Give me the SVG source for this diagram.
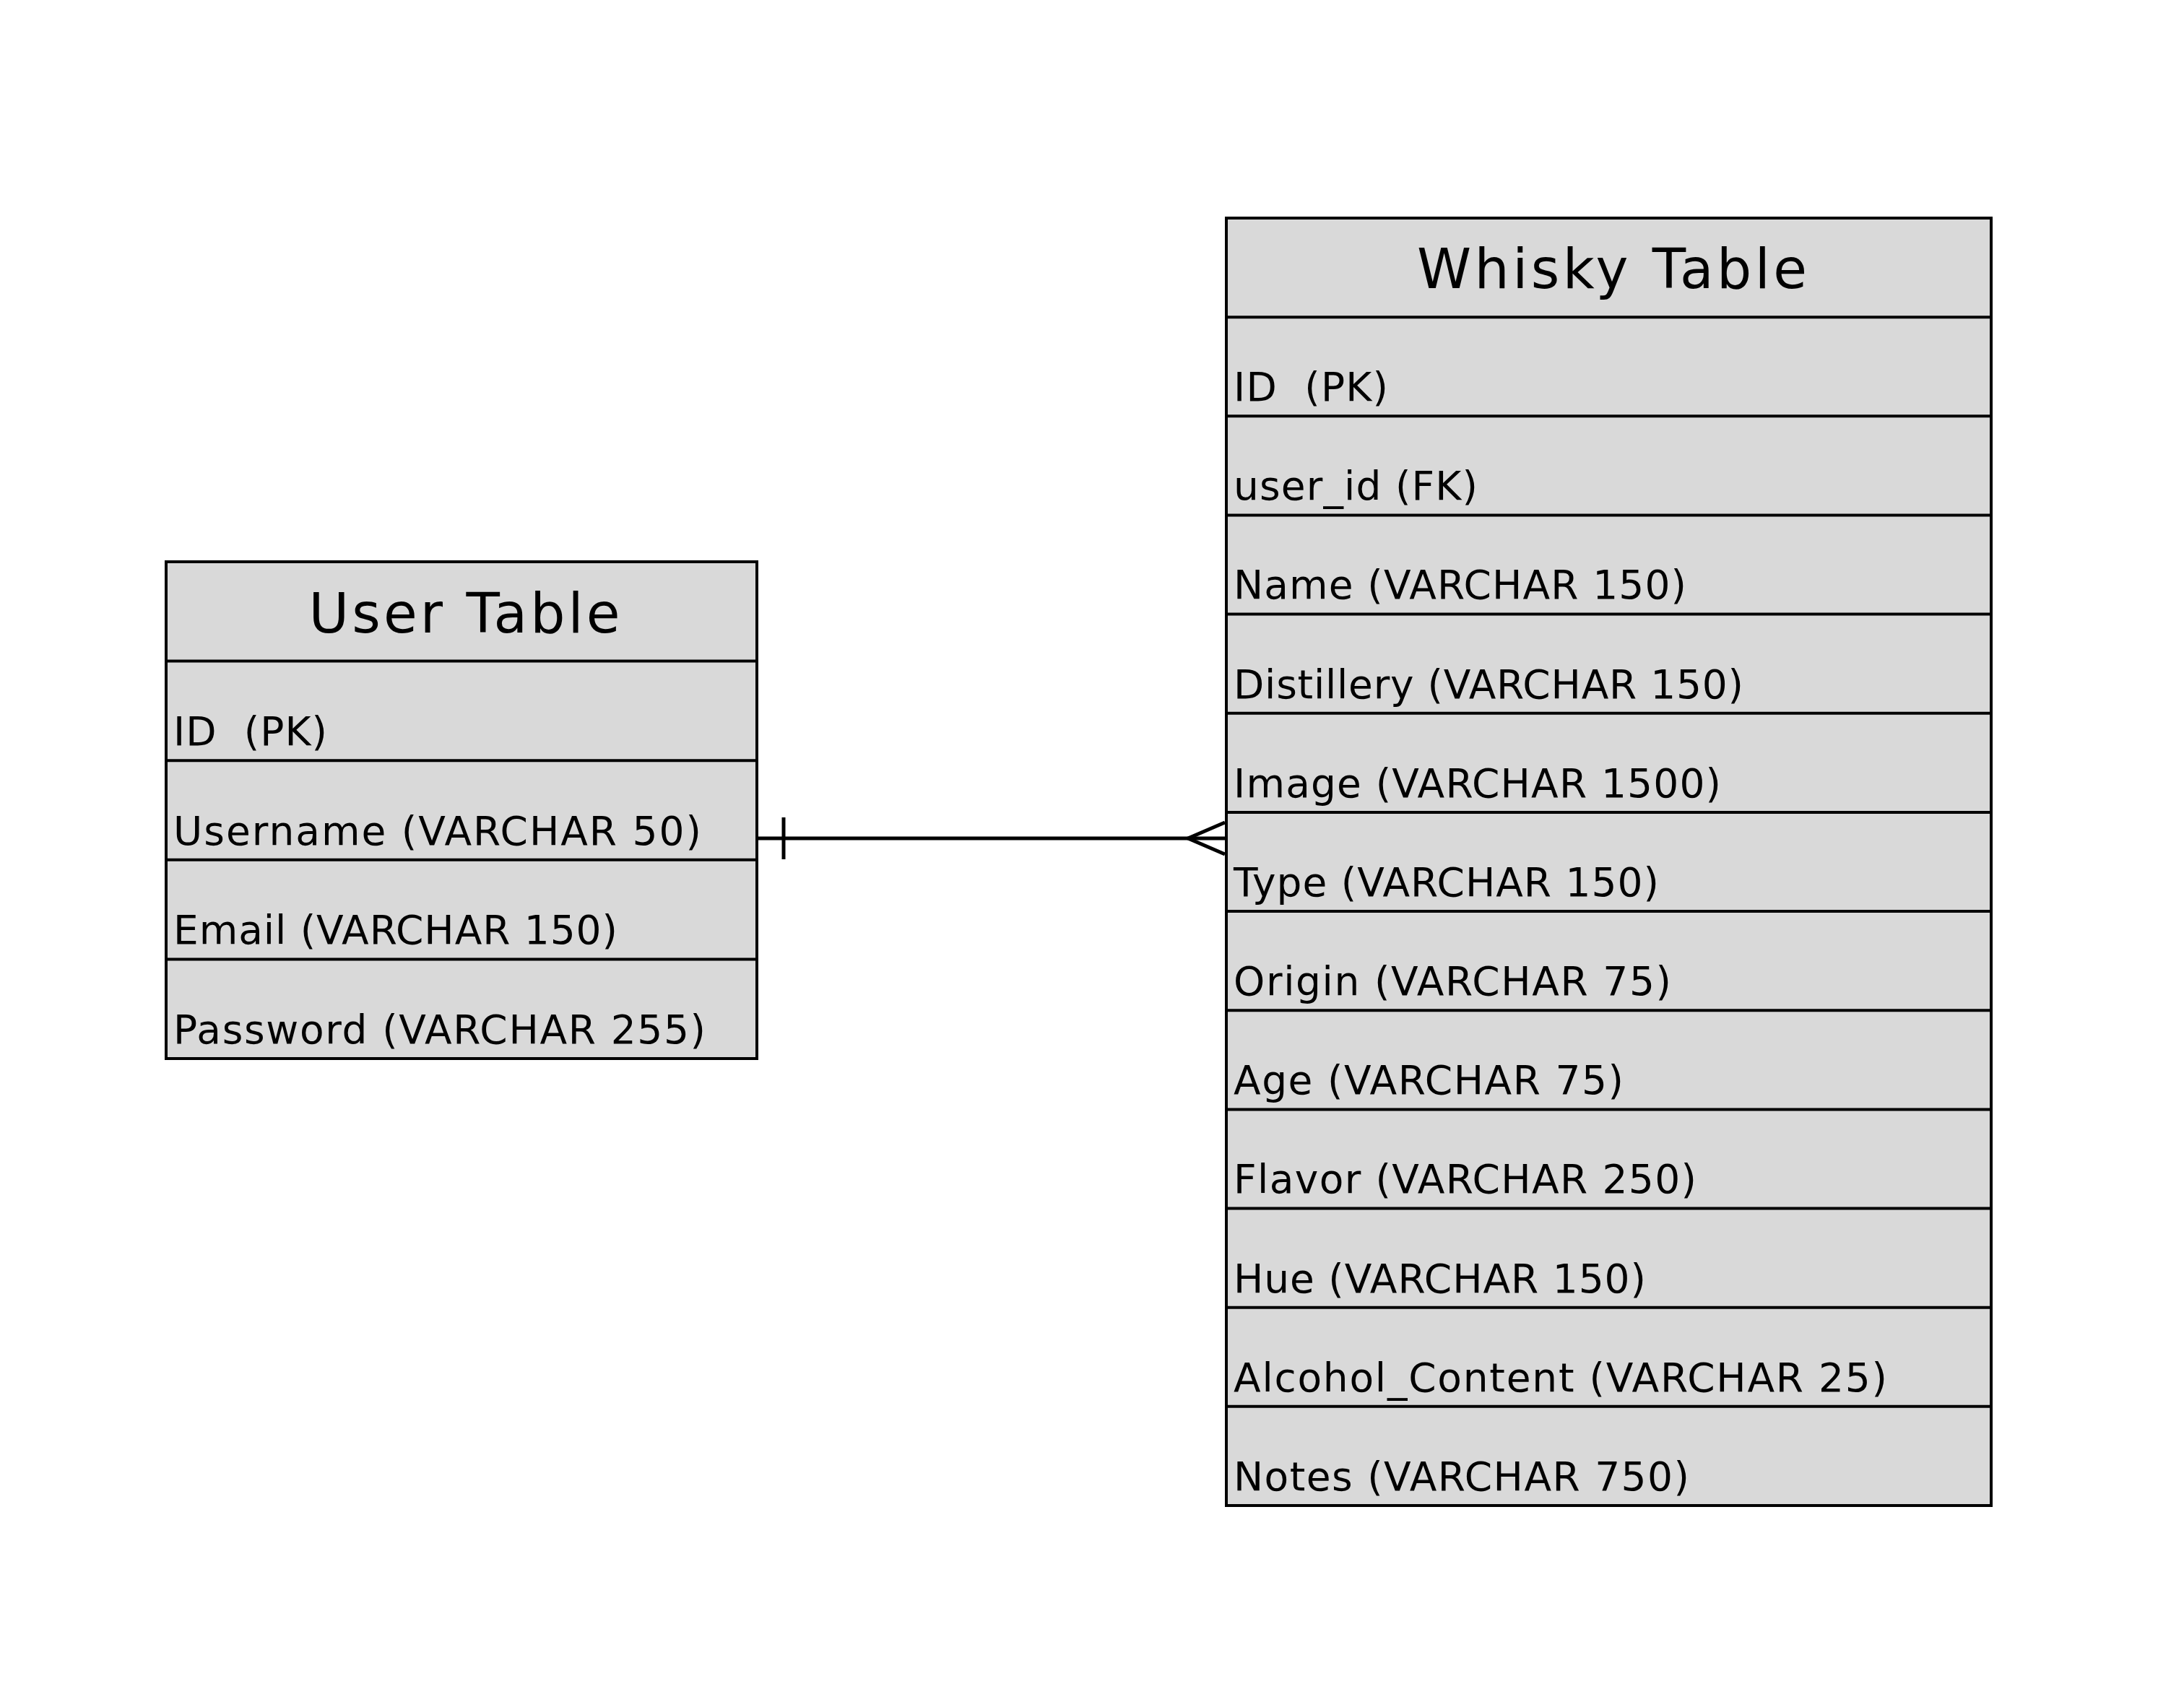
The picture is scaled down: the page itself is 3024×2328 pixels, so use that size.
<svg xmlns="http://www.w3.org/2000/svg" width="3024" height="2328" viewBox="0 0 3024 2328">
<style>
.box{fill:#d9d9d9;stroke:#000;stroke-width:4}
.sep{stroke:#000;stroke-width:4}
.title{font-family:"DejaVu Sans","Liberation Sans",sans-serif;font-size:76px;fill:#000;text-anchor:middle}
.field{font-family:"DejaVu Sans","Liberation Sans",sans-serif;font-size:55px;fill:#000}
.conn{stroke:#000;stroke-width:5;fill:none}
</style>
<rect width="3024" height="2328" fill="#fff"/>
<g id="user-table">
<rect class="box" x="230" y="778" width="818" height="688"/>
<line class="sep" x1="230" y1="915.6" x2="1048" y2="915.6"/>
<line class="sep" x1="230" y1="1053.2" x2="1048" y2="1053.2"/>
<line class="sep" x1="230" y1="1190.8" x2="1048" y2="1190.8"/>
<line class="sep" x1="230" y1="1328.4" x2="1048" y2="1328.4"/>
<text class="title" x="643" y="876" textLength="431" lengthAdjust="spacing">User Table</text>
<text class="field" x="240" y="1032" xml:space="preserve" textLength="213" lengthAdjust="spacing">ID  (PK)</text>
<text class="field" x="240" y="1170" textLength="731" lengthAdjust="spacing">Username (VARCHAR 50)</text>
<text class="field" x="240" y="1307" textLength="615" lengthAdjust="spacing">Email (VARCHAR 150)</text>
<text class="field" x="240" y="1445" textLength="737" lengthAdjust="spacing">Password (VARCHAR 255)</text>
</g>
<g id="whisky-table">
<rect class="box" x="1698" y="302" width="1059" height="1783"/>
<line class="sep" x1="1698" y1="439.15" x2="2757" y2="439.15"/>
<line class="sep" x1="1698" y1="576.3" x2="2757" y2="576.3"/>
<line class="sep" x1="1698" y1="713.5" x2="2757" y2="713.5"/>
<line class="sep" x1="1698" y1="850.6" x2="2757" y2="850.6"/>
<line class="sep" x1="1698" y1="987.8" x2="2757" y2="987.8"/>
<line class="sep" x1="1698" y1="1124.9" x2="2757" y2="1124.9"/>
<line class="sep" x1="1698" y1="1262.1" x2="2757" y2="1262.1"/>
<line class="sep" x1="1698" y1="1399.2" x2="2757" y2="1399.2"/>
<line class="sep" x1="1698" y1="1536.4" x2="2757" y2="1536.4"/>
<line class="sep" x1="1698" y1="1673.5" x2="2757" y2="1673.5"/>
<line class="sep" x1="1698" y1="1810.7" x2="2757" y2="1810.7"/>
<line class="sep" x1="1698" y1="1947.8" x2="2757" y2="1947.8"/>
<text class="title" x="2232" y="399" textLength="540" lengthAdjust="spacing">Whisky Table</text>
<text class="field" x="1708" y="555" xml:space="preserve" textLength="214" lengthAdjust="spacing">ID  (PK)</text>
<text class="field" x="1708" y="692" textLength="338" lengthAdjust="spacing">user_id (FK)</text>
<text class="field" x="1708" y="829" textLength="627" lengthAdjust="spacing">Name (VARCHAR 150)</text>
<text class="field" x="1708" y="967" textLength="706" lengthAdjust="spacing">Distillery (VARCHAR 150)</text>
<text class="field" x="1708" y="1104" textLength="675" lengthAdjust="spacing">Image (VARCHAR 1500)</text>
<text class="field" x="1708" y="1241" textLength="589" lengthAdjust="spacing">Type (VARCHAR 150)</text>
<text class="field" x="1708" y="1378" textLength="606" lengthAdjust="spacing">Origin (VARCHAR 75)</text>
<text class="field" x="1708" y="1515" textLength="540" lengthAdjust="spacing">Age (VARCHAR 75)</text>
<text class="field" x="1708" y="1652" textLength="641" lengthAdjust="spacing">Flavor (VARCHAR 250)</text>
<text class="field" x="1708" y="1790" textLength="571" lengthAdjust="spacing">Hue (VARCHAR 150)</text>
<text class="field" x="1708" y="1927" textLength="905" lengthAdjust="spacing">Alcohol_Content (VARCHAR 25)</text>
<text class="field" x="1708" y="2064" textLength="631" lengthAdjust="spacing">Notes (VARCHAR 750)</text>
</g>
<g id="connectors">
<line class="conn" x1="1048" y1="1161" x2="1698" y2="1161"/>
<line class="conn" x1="1085" y1="1132" x2="1085" y2="1190"/>
<polyline class="conn" points="1696,1139 1645,1161 1696,1183"/>
</g>
</svg>
